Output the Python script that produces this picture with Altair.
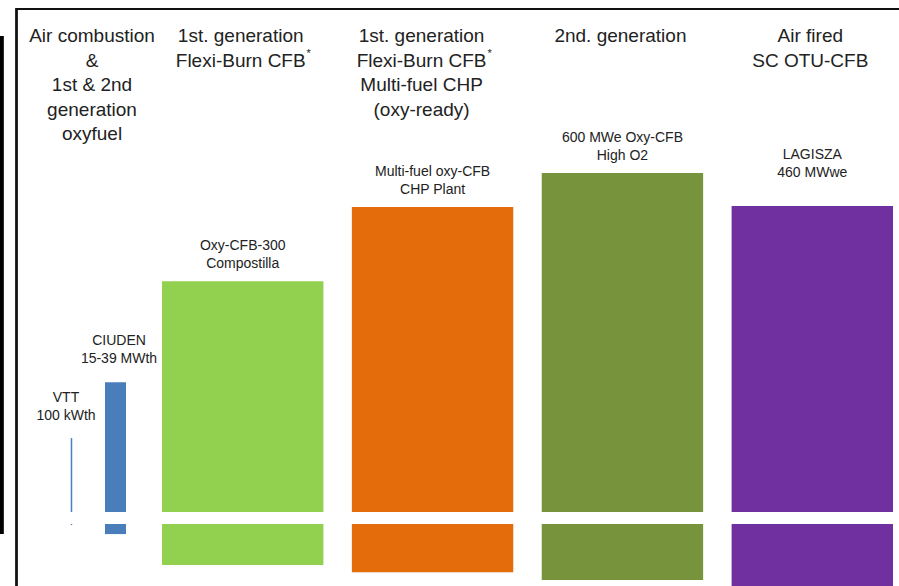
import altair as alt
import pandas as pd

# ---------------- data ----------------
plants = ["VTT", "CIUDEN", "Oxy-CFB-300", "Multi-fuel oxy-CFB", "600 MWe Oxy-CFB", "LAGISZA"]
plant_labels = [
    "VTT\n100 kWth",
    "CIUDEN\n15-39 MWth",
    "Oxy-CFB-300\nCompostilla",
    "Multi-fuel oxy-CFB\nCHP Plant",
    "600 MWe Oxy-CFB\nHigh O2",
    "LAGISZA\n460 MWwe",
]
plant_group = ["pilot", "pilot", "large", "large", "large", "large"]
upper_size = [21.8, 38.3, 68.1, 90.0, 100.0, 90.3]   # relative size (upper section)
lower_size = [2.0, 18.0, 73.0, 86.0, 100.0, 113.0]   # relative size (lower section)
plant_colors = ["#4a7ebb", "#4a7ebb", "#92d050", "#e46c0a", "#77933c", "#7030a0"]

headings = [
    "Air combustion\n&\n1st & 2nd\ngeneration\noxyfuel",
    "1st. generation\nFlexi-Burn CFB",
    "1st. generation\nFlexi-Burn CFB\nMulti-fuel CHP\n(oxy-ready)",
    "2nd. generation",
    "Air fired\nSC OTU-CFB",
]
heading_anchor = ["VTT", "Oxy-CFB-300", "Multi-fuel oxy-CFB", "600 MWe Oxy-CFB", "LAGISZA"]
footnote_anchor = ["Oxy-CFB-300", "Multi-fuel oxy-CFB"]

FONT = "Liberation Sans"
TXT = "#222222"

df = pd.DataFrame({"plant": plants, "label": plant_labels, "group": plant_group,
                   "upper": upper_size, "lower": lower_size})
hdf = pd.DataFrame({"heading": headings, "plant": heading_anchor})
fdf = pd.DataFrame({"plant": footnote_anchor, "mark": ["*"] * len(footnote_anchor)})

large_plants = [p for p, g in zip(plants, plant_group) if g == "large"]
pilot_plants = [p for p, g in zip(plants, plant_group) if g == "pilot"]

x_large = alt.X("plant:N", axis=None,
                scale=alt.Scale(type="band", domain=large_plants, range=[162, 893],
                                paddingInner=0.15, paddingOuter=0))
x_pilot = alt.X("plant:N", axis=None,
                scale=alt.Scale(type="point", domain=pilot_plants, range=[71.5, 115.5], padding=0))
y_up = alt.Y("upper:Q", axis=None,
             scale=alt.Scale(domain=[0, 100], range=[512, 173], nice=False, zero=True))
y_low = alt.Y("lower:Q", axis=None,
              scale=alt.Scale(domain=[0, 100], range=[524, 580], nice=False, zero=True))
color = alt.Color("plant:N", legend=None, scale=alt.Scale(domain=plants, range=plant_colors))

base = alt.Chart(df)
large = base.transform_filter(alt.datum.group == "large")
vtt = base.transform_filter(alt.datum.plant == "VTT")
ciu = base.transform_filter(alt.datum.plant == "CIUDEN")

up_large = large.mark_bar().encode(x=x_large, y=y_up, color=color)
low_large = large.mark_bar().encode(x=x_large, y=y_low, color=color)
up_vtt = vtt.mark_bar(size=1.5).encode(x=x_pilot, y=y_up, color=color)
low_vtt = vtt.mark_bar(size=1.5).encode(x=x_pilot, y=y_low, color=color)
up_ciu = ciu.mark_bar(size=21).encode(x=x_pilot, y=y_up, color=color)
low_ciu = ciu.mark_bar(size=21).encode(x=x_pilot, y=y_low, color=color)


def lab(dx=0, dy=0):
    return dict(font=FONT, fontSize=14, lineBreak="\n", lineHeight=18, baseline="bottom",
                align="center", color=TXT, dx=dx, dy=dy)


lab_large = large.transform_filter(alt.datum.plant != "LAGISZA").mark_text(**lab(0, -28)).encode(
    x=x_large, y=y_up, text="label:N")
lab_lag = large.transform_filter(alt.datum.plant == "LAGISZA").mark_text(**lab(0, -44)).encode(
    x=x_large, y=y_up, text="label:N")
lab_vtt = vtt.mark_text(**lab(-5.5, -33)).encode(x=x_pilot, y=y_up, text="label:N")
lab_ciu = ciu.mark_text(**lab(3.5, -34)).encode(x=x_pilot, y=y_up, text="label:N")


def head(dx=0):
    return dict(font=FONT, fontSize=19, lineBreak="\n", lineHeight=24.5, baseline="top",
                align="center", color=TXT, dx=dx)


hbase = alt.Chart(hdf)
head_main = hbase.transform_filter(
    alt.FieldOneOfPredicate(field="plant", oneOf=["Oxy-CFB-300", "600 MWe Oxy-CFB", "LAGISZA"])
).mark_text(**head(-2)).encode(x=x_large, y=alt.value(27), text="heading:N")
head_chp = hbase.transform_filter(alt.datum.plant == "Multi-fuel oxy-CFB").mark_text(**head(-11)).encode(
    x=x_large, y=alt.value(27), text="heading:N")
head_pilot = hbase.transform_filter(alt.datum.plant == "VTT").mark_text(**head(20.5)).encode(
    x=x_pilot, y=alt.value(27), text="heading:N")

fbase = alt.Chart(fdf)
star1 = fbase.transform_filter(alt.datum.plant == "Oxy-CFB-300").mark_text(
    font=FONT, fontSize=11, baseline="top", align="center", color=TXT, dx=66).encode(
    x=x_large, y=alt.value(48), text="mark:N")
star2 = fbase.transform_filter(alt.datum.plant == "Multi-fuel oxy-CFB").mark_text(
    font=FONT, fontSize=11, baseline="top", align="center", color=TXT, dx=57).encode(
    x=x_large, y=alt.value(48), text="mark:N")

# frame decorations
edge = alt.Chart(df).mark_rule(color="#000000", strokeWidth=3.5).encode(
    x=alt.value(1.5), y=alt.value(36), y2=alt.value(534))
frame_left = alt.Chart(df).mark_rule(color="#111111", strokeWidth=1.6).encode(
    x=alt.value(16.5), y=alt.value(8), y2=alt.value(586))
frame_top = alt.Chart(df).mark_rule(color="#111111", strokeWidth=1.6).encode(
    x=alt.value(16), x2=alt.value(899), y=alt.value(9))

chart = alt.layer(
    edge, frame_left, frame_top,
    up_large, low_large, up_vtt, low_vtt, up_ciu, low_ciu,
    lab_large, lab_lag, lab_vtt, lab_ciu,
    head_main, head_chp, head_pilot, star1, star2,
).resolve_scale(x="independent", y="independent").properties(
    width=899, height=586, padding=0, autosize=alt.AutoSizeParams(type="none"),
    background="white",
).configure_view(stroke=None)

chart.save("out.html", embed_options={"renderer": "svg", "actions": False})
